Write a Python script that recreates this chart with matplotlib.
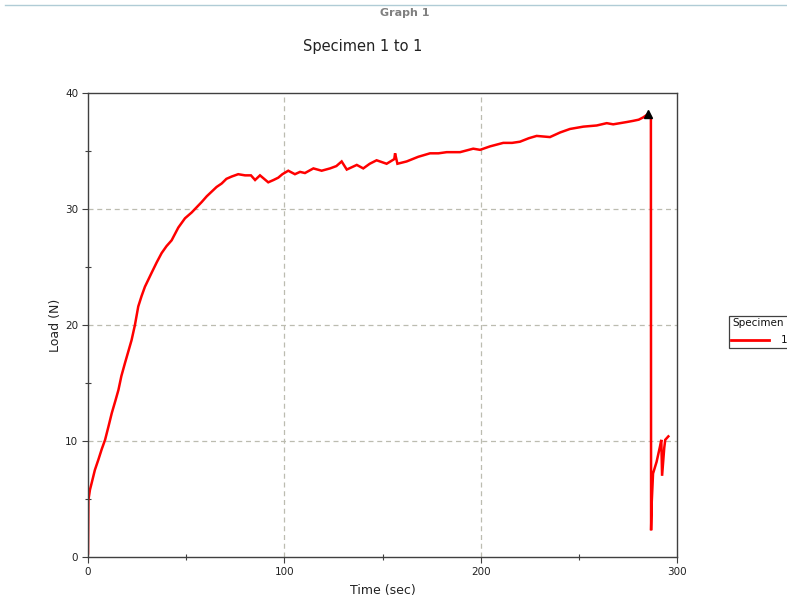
import matplotlib
matplotlib.use("Agg")
import matplotlib.pyplot as plt
from matplotlib.patches import Rectangle
from matplotlib.lines import Line2D

time_sec = [0.0, 0.1, 0.2, 1.0, 1.9, 3.5, 5.3, 7.0, 8.7, 10.5, 12.1, 14.0, 15.5, 17.0, 18.8,
            20.5, 22.2, 23.9, 25.6, 27.3, 29.0, 32.4, 35.0, 37.5, 40.0, 42.6, 46.0, 49.4,
            52.8, 57.9, 60.5, 63.0, 65.5, 68.1, 70.5, 73.2, 76.5, 80.0, 83.0, 85.1, 87.6,
            91.8, 94.5, 96.9, 99.0, 102.0, 105.4, 108.0, 110.5, 114.8, 119.0, 123.3,
            126.5, 129.2, 131.8, 136.9, 140.2, 143.5, 147.0, 152.1, 156.0, 156.4, 157.6,
            162.3, 168.2, 174.2, 178.5, 182.7, 189.5, 196.2, 199.7, 204.8, 211.5, 216.0,
            220.0, 224.5, 228.5, 235.3, 240.5, 245.5, 252.3, 259.1, 264.2, 267.5, 271.0,
            274.5, 277.7, 280.5, 282.8, 285.4, 286.7, 286.8, 287.1, 287.8, 289.6, 291.3,
            292.0, 292.4, 293.5, 294.0, 295.6]
load_n = [0.3, 2.5, 4.9, 5.8, 6.4, 7.5, 8.4, 9.3, 10.1, 11.3, 12.4, 13.5, 14.4, 15.6, 16.7,
          17.7, 18.7, 20.0, 21.6, 22.5, 23.3, 24.5, 25.4, 26.2, 26.8, 27.3, 28.4, 29.2,
          29.7, 30.6, 31.1, 31.5, 31.9, 32.2, 32.6, 32.8, 33.0, 32.9, 32.9, 32.5, 32.9,
          32.3, 32.5, 32.7, 33.0, 33.3, 33.0, 33.2, 33.1, 33.5, 33.3, 33.5,
          33.7, 34.1, 33.4, 33.8, 33.5, 33.9, 34.2, 33.9, 34.3, 34.8, 33.9,
          34.1, 34.5, 34.8, 34.8, 34.9, 34.9, 35.2, 35.1, 35.4, 35.7, 35.7,
          35.8, 36.1, 36.3, 36.2, 36.6, 36.9, 37.1, 37.2, 37.4, 37.3, 37.4,
          37.5, 37.6, 37.7, 37.9, 38.2, 37.9, 2.3, 4.6, 7.2, 8.2, 9.5,
          10.1, 7.0, 9.4, 10.1, 10.4]
peak_time = 285.4
peak_load = 38.2

x_ticks = [0, 100, 200, 300]
y_ticks = [0, 10, 20, 30, 40]

W, H = 787, 604
fig = plt.figure(figsize=(W / 100, H / 100), dpi=100)
ax = fig.add_axes([88 / W, 1 - 557 / H, (677 - 88) / W, (557 - 93) / H])

ax.plot(time_sec, load_n, color="#ff0000", lw=1.8, solid_joinstyle="miter")
ax.plot([peak_time], [peak_load], marker="^", color="black", ms=5.5, ls="none")

ax.set_xlim(0, 300)
ax.set_ylim(0, 40)
ax.set_xticks(x_ticks)
ax.set_yticks(y_ticks)
ax.set_xticks([50, 150, 250], minor=True)
ax.set_yticks([5, 15, 25, 35], minor=True)
ax.tick_params(which="major", direction="out", length=4, width=0.8, color="#404040",
               labelsize=7.5, labelcolor="#222222", pad=3)
ax.tick_params(which="minor", direction="inout", length=5, width=0.8, color="#404040")
for s in ax.spines.values():
    s.set_color("#404040")
    s.set_linewidth(1.0)

for v in [100, 200]:
    ax.axvline(v, color="#bcbcb0", lw=0.9, ls=(0, (4, 3)), zorder=0)
for v in [10, 20, 30]:
    ax.axhline(v, color="#bcbcb0", lw=0.9, ls=(0, (4, 3)), zorder=0)

ax.set_xlabel("Time (sec)", fontsize=9, color="#222222", labelpad=5)
ax.set_ylabel("Load (N)", fontsize=9, color="#222222", labelpad=2)

fig.text(405 / W, 1 - 13 / H, "Graph 1", ha="center", va="center", fontsize=8,
         color="#808080", fontweight="bold")
fig.text(363 / W, 1 - 46 / H, "Specimen 1 to 1", ha="center", va="center", fontsize=10.5,
         color="#222222")
fig.add_artist(Line2D([5 / W, 1.0], [1 - 5 / H, 1 - 5 / H], transform=fig.transFigure,
                      color="#b0ccd6", lw=1.0))

# legend (clipped at right edge as in the reference)
fig.add_artist(Rectangle((729 / W, 1 - 348 / H), 70 / W, 32 / H, transform=fig.transFigure,
                         facecolor="white", edgecolor="#404040", lw=0.9))
fig.text(732 / W, 1 - 323 / H, "Specimen", ha="left", va="center", fontsize=7.5, color="#111111")
fig.add_artist(Line2D([731 / W, 769 / W], [1 - 340 / H, 1 - 340 / H], transform=fig.transFigure,
                      color="#ff0000", lw=2.0))
fig.text(781 / W, 1 - 340 / H, "1", ha="left", va="center", fontsize=7.5, color="#111111")

fig.savefig("out.png", dpi=100)
